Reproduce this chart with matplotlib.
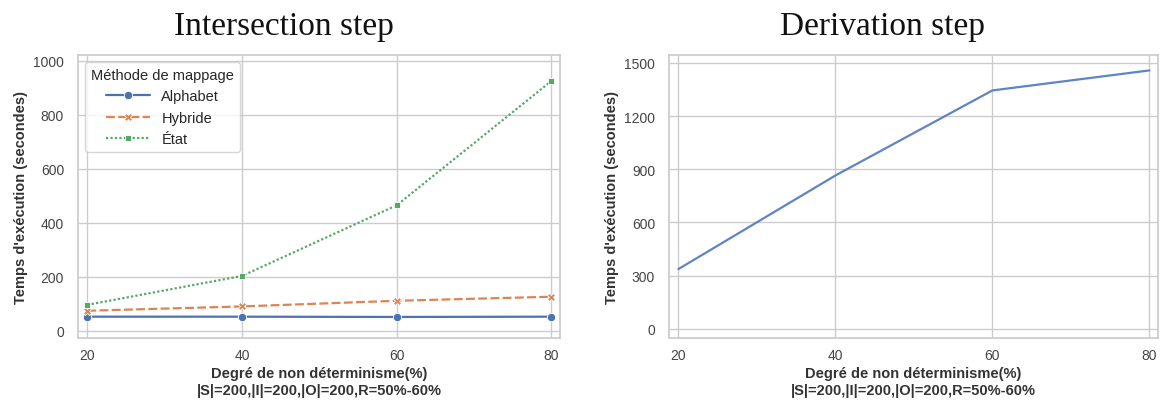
import matplotlib
matplotlib.use("Agg")
import matplotlib.pyplot as plt
import seaborn as sns

sns.set_theme(style="whitegrid")
plt.rcParams["font.family"] = ["Liberation Sans", "DejaVu Sans"]

degre = [20, 40, 60, 80]
alphabet = [52, 52, 51, 52]
hybride = [74, 90, 111, 126]
etat = [96, 203, 465, 926]
derivation = [337, 865, 1345, 1458]

xlabel = "Degré de non déterminisme(%)\n|S|=200,|I|=200,|O|=200,R=50%-60%"
ylabel = "Temps d'exécution (secondes)"

fig = plt.figure(figsize=(11.6, 4.06), dpi=100)
ax1 = fig.add_axes([78 / 1160, 1 - 339 / 406, 482 / 1160, 283 / 406])
ax2 = fig.add_axes([669 / 1160, 1 - 339 / 406, 489 / 1160, 283 / 406])

pal = sns.color_palette()
common = dict(lw=1.6, mec="white", mew=0.6)
ax1.plot(degre, alphabet, color=pal[0], marker="o", markersize=6, label="Alphabet", **common)
ax1.plot(degre, hybride, color=pal[1], marker="X", markersize=6, ls=(0, (4, 1.5)), label="Hybride", **common)
ax1.plot(degre, etat, color=pal[2], marker="s", markersize=4.5, ls=(0, (1, 1)), label="État", **common)

ax2.plot(degre, derivation, color="#5f84c6", lw=1.6)

# titles sit left of the axes centre in the reference
for xc, title in [(284, "Intersection step"), (883, "Derivation step")]:
    fig.text(xc / 1160, 1 - 35 / 406, title, ha="center", va="baseline",
             fontsize=24, family=["Liberation Serif", "DejaVu Serif"], color="#111111")

for ax in (ax1, ax2):
    ax.set_xlabel(xlabel, fontsize=10.5, fontweight="bold", color="#333333", linespacing=1.25, labelpad=3)
    ax.set_ylabel(ylabel, fontsize=10.5, fontweight="bold", color="#333333")
    ax.set_xticks(degre)
    ax.set_xlim(18.8, 81.1)
    ax.tick_params(axis="x", labelsize=10, colors="#444444", pad=1)
    ax.tick_params(axis="y", labelsize=10, colors="#444444", pad=4)

ax1.set_ylim(-27, 1022)
ax1.set_yticks([0, 200, 400, 600, 800, 1000])
ax2.set_ylim(-52, 1545)
ax2.set_yticks([0, 300, 600, 900, 1200, 1500])

leg = ax1.legend(title="Méthode de mappage", loc="upper left", fontsize=10.5,
                 title_fontsize=10.5, handlelength=3, borderaxespad=0.5,
                 labelspacing=0.5)

fig.savefig("out.png", dpi=100)
